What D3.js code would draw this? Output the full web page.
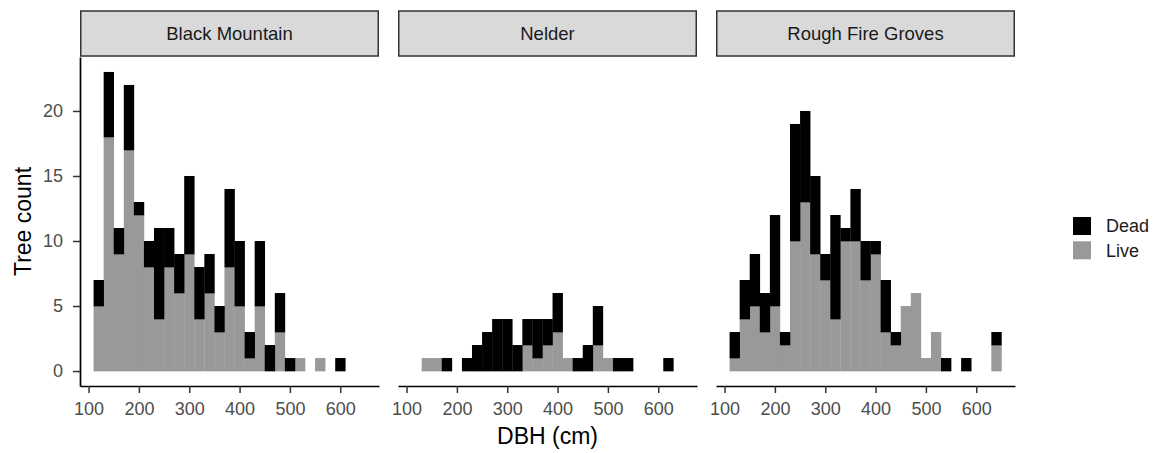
<!DOCTYPE html>
<html>
<head>
<meta charset="utf-8">
<script src="https://cdn.jsdelivr.net/npm/d3@7"></script>
<style>
  body { margin: 0; background: #fff; }
  text { font-family: "Liberation Sans", Arial, sans-serif; }
</style>
</head>
<body>
<div id="chart"></div>
<script>
"use strict";

// bin centres (cm), bins are 20 cm wide
const binCentres = [120,140,160,180,200,220,240,260,280,300,320,340,360,380,400,420,440,460,480,500,520,540,560,580,600,620,640];
const sites = ["Black Mountain", "Nelder", "Rough Fire Groves"];
const statuses = ["Dead", "Live"];

const blackMountainLive = [5,18,9,17,12,8,4,8,6,9,4,6,3,8,5,1,5,0,3,0,1,0,1,0,0,0,0];
const blackMountainDead = [2,5,2,5,1,2,7,3,3,6,4,3,2,6,5,2,5,2,3,1,0,0,0,0,1,0,0];
const nelderLive        = [0,1,1,0,0,0,0,0,0,0,0,2,1,2,3,1,0,0,2,1,0,0,0,0,0,0,0];
const nelderDead        = [0,0,0,1,0,1,2,3,4,4,2,2,3,2,3,0,1,2,3,0,1,1,0,0,0,1,0];
const roughFireLive     = [1,4,5,3,5,2,10,13,9,7,4,10,10,7,9,3,2,5,6,1,3,0,0,0,0,0,2];
const roughFireDead     = [2,3,4,3,7,1,9,7,6,2,8,1,4,3,1,4,1,0,0,0,0,1,0,1,0,0,1];

const xTicks = [100,200,300,400,500,600];
const yTicks = [0,5,10,15,20];

const siteData = {
  "Black Mountain":    { Live: blackMountainLive, Dead: blackMountainDead },
  "Nelder":            { Live: nelderLive,        Dead: nelderDead },
  "Rough Fire Groves": { Live: roughFireLive,     Dead: roughFireDead }
};

const colours = { Dead: "#000000", Live: "#999999" };

let width = 1156, height = 453;
let left = 80, pw = 299, gap = 19;
let stripTop = 11, stripH = 45;
let panelTop = 57, ph = 329;
let binW = 20;

let svg = d3.select("#chart").append("svg")
    .attr("width", width)
    .attr("height", height);

let x = d3.scaleLinear().domain([83, 677]).range([0, pw]);
let y = d3.scaleLinear().domain([-1.15, 24.15]).range([ph, 0]);

sites.forEach((site, i) => {
  let g = svg.append("g")
      .attr("transform", "translate(" + (left + i * (pw + gap)) + "," + panelTop + ")");

  // strip
  svg.append("rect")
      .attr("x", left + i * (pw + gap) + 0.75)
      .attr("y", stripTop)
      .attr("width", pw - 1.5)
      .attr("height", stripH)
      .attr("fill", "#d9d9d9")
      .attr("stroke", "#333")
      .attr("stroke-width", 1.5);
  svg.append("text")
      .attr("x", left + i * (pw + gap) + pw / 2)
      .attr("y", stripTop + stripH / 2)
      .attr("dy", "0.35em")
      .attr("text-anchor", "middle")
      .attr("font-size", 18.5)
      .attr("fill", "#1a1a1a")
      .text(site);

  // stack: Live at bottom, Dead on top
  let rows = binCentres.map((c, j) => ({ c: c, Live: siteData[site].Live[j], Dead: siteData[site].Dead[j] }));
  let stack = d3.stack().keys(["Live", "Dead"])(rows);

  g.selectAll("g.layer")
    .data(stack)
    .enter().append("g")
      .attr("class", "layer")
      .attr("fill", d => colours[d.key])
    .selectAll("rect")
    .data(d => d.filter(s => s[1] > s[0]))
    .enter().append("rect")
      .attr("x", s => x(s.data.c - binW / 2))
      .attr("width", s => x(s.data.c + binW / 2) - x(s.data.c - binW / 2) + 0.3)
      .attr("y", s => y(s[1]))
      .attr("height", s => y(s[0]) - y(s[1]) + 0.3);

  // x axis
  let xa = g.append("g")
      .attr("transform", "translate(0," + ph + ")")
      .call(d3.axisBottom(x).tickValues(xTicks).tickSize(7).tickPadding(9).tickSizeOuter(0));
  xa.select(".domain").attr("stroke", "#000").attr("stroke-width", 1.7);
  xa.selectAll(".tick line").attr("stroke", "#333").attr("stroke-width", 1.5);
  xa.selectAll(".tick text").attr("font-size", 18).attr("fill", "#4d4d4d")
      .style("font-family", "'Liberation Sans', Arial, sans-serif");

  if (i === 0) {
    let ya = g.append("g")
        .call(d3.axisLeft(y).tickValues(yTicks).tickSize(7).tickPadding(10).tickSizeOuter(0));
    ya.select(".domain").attr("stroke", "#000").attr("stroke-width", 1.7);
    ya.selectAll(".tick line").attr("stroke", "#333").attr("stroke-width", 1.5);
    ya.selectAll(".tick text").attr("font-size", 18).attr("fill", "#4d4d4d")
        .style("font-family", "'Liberation Sans', Arial, sans-serif");
  }
});

// axis titles
svg.append("text")
    .attr("x", left + (3 * pw + 2 * gap) / 2)
    .attr("y", 444)
    .attr("text-anchor", "middle")
    .attr("font-size", 23)
    .text("DBH (cm)");

svg.append("text")
    .attr("transform", "translate(31," + (panelTop + ph / 2) + ") rotate(-90)")
    .attr("text-anchor", "middle")
    .attr("font-size", 23)
    .text("Tree count");

// legend
let legend = svg.append("g").attr("transform", "translate(1073,217)");
statuses.forEach((s, k) => {
  legend.append("rect")
      .attr("x", 0)
      .attr("y", k * 24.3)
      .attr("width", 18)
      .attr("height", 18)
      .attr("fill", colours[s]);
  legend.append("text")
      .attr("x", 33)
      .attr("y", k * 24.3 + 9)
      .attr("dy", "0.35em")
      .attr("font-size", 18)
      .attr("fill", "#1a1a1a")
      .text(s);
});
</script>
</body>
</html>
